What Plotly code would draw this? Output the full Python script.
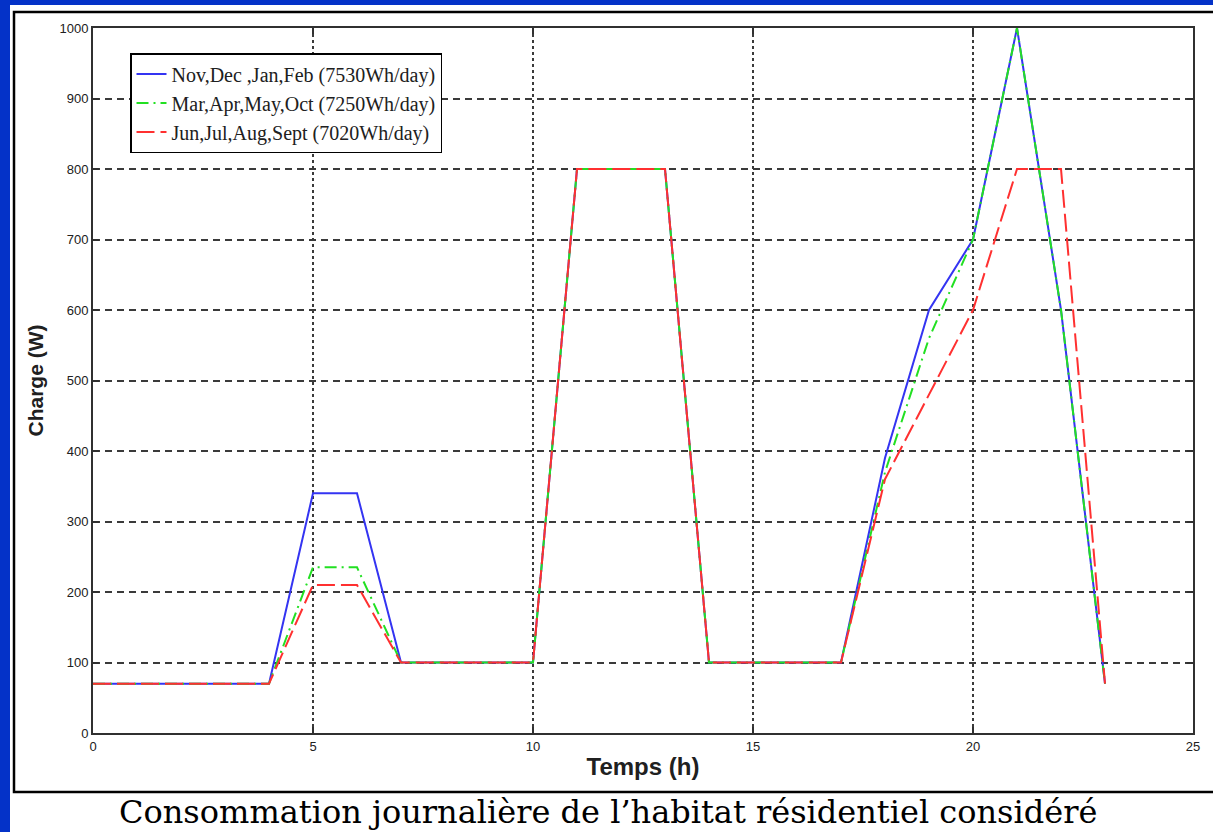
import plotly.graph_objects as go

hours = list(range(24))
winter = [70, 70, 70, 70, 70, 340, 340, 100, 100, 100, 100, 800, 800, 800, 100, 100, 100, 100, 390, 600, 700, 1000, 600, 70]
spring = [70, 70, 70, 70, 70, 235, 235, 100, 100, 100, 100, 800, 800, 800, 100, 100, 100, 100, 370, 560, 700, 1000, 600, 70]
summer = [70, 70, 70, 70, 70, 210, 210, 100, 100, 100, 100, 800, 800, 800, 100, 100, 100, 100, 360, 480, 600, 800, 800, 70]
names = ["Nov,Dec ,Jan,Feb (7530Wh/day)", "Mar,Apr,May,Oct (7250Wh/day)", "Jun,Jul,Aug,Sept (7020Wh/day)"]
x_ticks = [0, 5, 10, 15, 20, 25]
y_ticks = list(range(0, 1001, 100))
caption = "Consommation journalière de l’habitat résidentiel considéré"

W, H = 1213, 832
L, R, T, B = 93, 1193, 28, 733


def px(x):
    return (x - L) / (R - L)


def py(y):
    return (B - y) / (B - T)


fig = go.Figure()
fig.add_trace(go.Scatter(x=hours, y=winter, mode="lines", name=names[0],
                         line=dict(color="#3434f2", width=2, dash="solid")))
fig.add_trace(go.Scatter(x=hours, y=spring, mode="lines", name=names[1],
                         line=dict(color="#22e022", width=2, dash="12px,5px,2px,5px")))
fig.add_trace(go.Scatter(x=hours, y=summer, mode="lines", name=names[2],
                         line=dict(color="#ff3030", width=2, dash="18px,6px")))

axis_common = dict(showline=True, linecolor="#303030", linewidth=2, mirror="ticks",
                   ticks="inside", ticklen=6, tickcolor="#303030", tickwidth=1.5,
                   showgrid=True, gridcolor="#3a3a3a", gridwidth=2, zeroline=False,
                   tickfont=dict(family="Liberation Sans, Arial", size=13, color="#202020"))

fig.update_xaxes(range=[0, 25], tickvals=x_ticks, griddash="dot",
                 title=dict(text="<b>Temps (h)</b>", font=dict(family="Liberation Sans, Arial", size=24, color="#202020"), standoff=6),
                 **axis_common)
fig.update_yaxes(range=[0, 1000], tickvals=y_ticks, griddash="7px,5px",
                 title=dict(text="<b>Charge (W)</b>", font=dict(family="Liberation Sans, Arial", size=21, color="#202020"), standoff=10),
                 **axis_common)

shapes = [
    dict(type="rect", xref="paper", yref="paper", layer="below",
         x0=px(10), x1=px(1215), y0=py(834), y1=py(5),
         fillcolor="white", line=dict(width=0)),
    dict(type="rect", xref="paper", yref="paper", layer="below",
         x0=px(14), x1=px(1230), y0=py(792), y1=py(12),
         fillcolor="rgba(0,0,0,0)", line=dict(color="black", width=2.5)),
]

fig.update_layout(
    width=W, height=H,
    margin=dict(l=L, r=W - R, t=T, b=H - B),
    paper_bgcolor="#0432c8",
    plot_bgcolor="white",
    shapes=shapes,
    showlegend=True,
    legend=dict(x=px(130), y=py(53), xanchor="left", yanchor="top",
                bgcolor="white", bordercolor="black", borderwidth=1.5,
                font=dict(family="Liberation Serif, Times New Roman", size=20, color="#202020"),
                tracegroupgap=0),
    annotations=[dict(text=caption, xref="paper", yref="paper", x=px(608), y=py(812),
                      xanchor="center", yanchor="middle", showarrow=False,
                      font=dict(family="DejaVu Serif, Liberation Serif", size=32, color="black"))],
)

fig.write_html("out.html", config={"displayModeBar": False},
               post_script="document.body.style.margin='0px';")
